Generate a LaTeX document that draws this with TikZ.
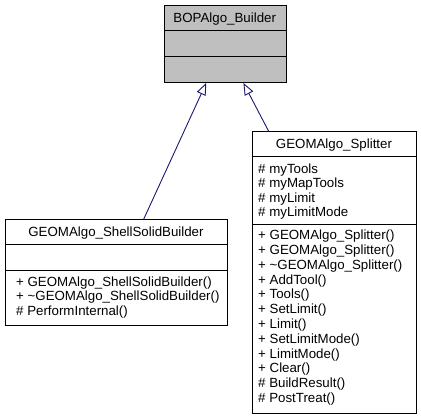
\documentclass[tikz,border=0pt]{standalone}
\usepackage{fontspec}
\setmainfont{Liberation Sans}
\usetikzlibrary{arrows.meta}

\definecolor{edgeblue}{RGB}{25,25,112}
\definecolor{basegray}{RGB}{191,191,191}

\tikzset{
  classbox/.style={draw=black, line width=1pt, rectangle, inner sep=0pt, anchor=north west},
  member/.style={inner sep=0pt, text height=9.5pt, text depth=0pt, anchor=west,
    font=\fontsize{13.3}{14}\selectfont},
  title/.style={member, anchor=center},
  inherit/.style={draw=edgeblue, line width=0.9pt,
    -{Triangle[open, fill=white, length=12pt, width=9.5pt]}}
}

\begin{document}
\begin{tikzpicture}[x=1pt, y=-1pt]
\useasboundingbox (0,0) rectangle (421,419);

% Base class
\node[classbox, fill=basegray, minimum width=121.5pt, minimum height=77pt] (builder) at (164,5) {};
\draw[line width=1pt] (164,31) -- (285.5,31);
\draw[line width=1pt] (164,57) -- (285.5,57);
\node[title] (buildername) at (224.75,18) {BOPAlgo\_Builder};

% Shell solid builder
\node[classbox, fill=white, minimum width=222pt, minimum height=106pt] (shell) at (5,219) {};
\draw[line width=1pt] (5,245) -- (227,245);
\draw[line width=1pt] (5,271) -- (227,271);
\node[title] (shellname) at (116,231.5) {GEOMAlgo\_ShellSolidBuilder};
\node[member] (shellop1) at (16,281.5) {+ GEOMAlgo\_ShellSolidBuilder()};
\node[member] (shellop2) at (16,296) {+ \textasciitilde GEOMAlgo\_ShellSolidBuilder()};
\node[member] (shellop3) at (16,310.5) {\# PerformInternal()};

% Splitter
\node[classbox, fill=white, minimum width=164pt, minimum height=282pt] (splitter) at (252,131) {};
\draw[line width=1pt] (252,157) -- (416,157);
\draw[line width=1pt] (252,225) -- (416,225);
\node[title] (splittername) at (334,144) {GEOMAlgo\_Splitter};
\foreach \txt [count=\i from 0] in {myTools, myMapTools, myLimit, myLimitMode}
  \node[member] (splitattr\i) at (258,168.5+14.4*\i) {\# \txt};
\foreach \txt [count=\i from 0] in {+ GEOMAlgo\_Splitter(), + GEOMAlgo\_Splitter(),
    + \textasciitilde GEOMAlgo\_Splitter(), + AddTool(), + Tools(), + SetLimit(),
    + Limit(), + SetLimitMode(), + LimitMode(), + Clear(), \# BuildResult(), \# PostTreat()}
  \node[member] (splitop\i) at (258,235+14.8*\i) {\txt};

% Inheritance
\draw[inherit] (shell.63.9) -- (builder.244);
\draw[inherit] (splitter.115.4) -- (builder.295.4);
\end{tikzpicture}
\end{document}
